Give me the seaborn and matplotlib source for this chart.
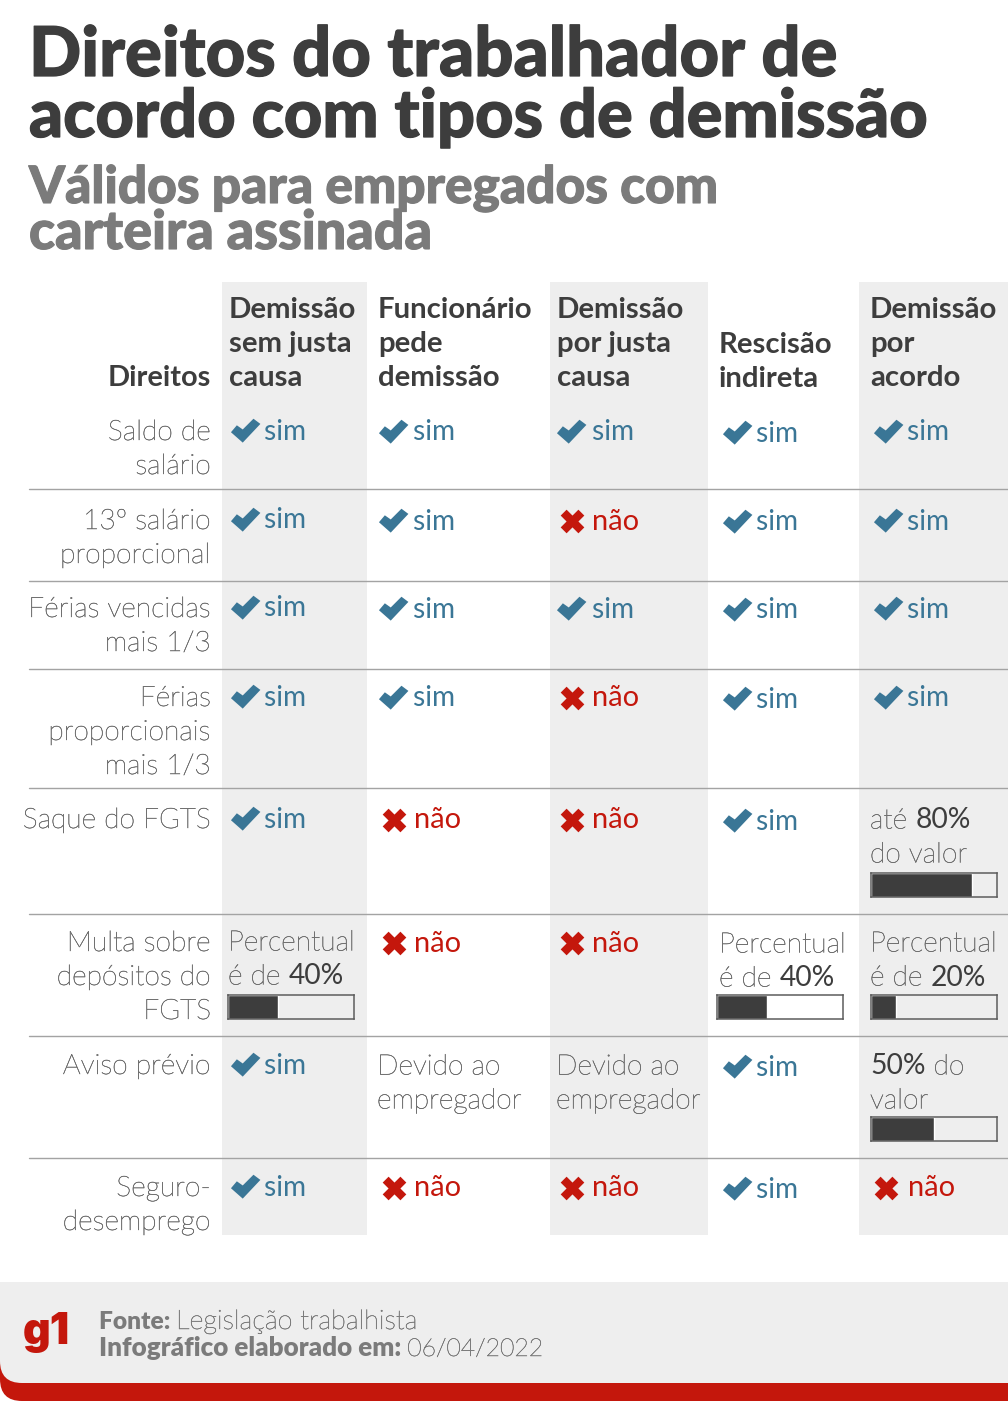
import numpy as np
import pandas as pd
import matplotlib
matplotlib.use('Agg')
import matplotlib.pyplot as plt
import matplotlib.patheffects as pe
from matplotlib.patches import FancyBboxPatch, Rectangle
from matplotlib.path import Path
import seaborn as sns

W, H = 1008, 1411

TITLE = ['Direitos do trabalhador de', 'acordo com tipos de demissão']
SUBTITLE = ['Válidos para empregados com', 'carteira assinada']
HEAD_LEFT = 'Direitos'
HEADERS = [
    ['Demissão', 'sem justa', 'causa'],
    ['Funcionário', 'pede', 'demissão'],
    ['Demissão', 'por justa', 'causa'],
    ['Rescisão', 'indireta'],
    ['Demissão', 'por', 'acordo'],
]
DIREITOS = [
    ['Saldo de', 'salário'],
    ['13º salário', 'proporcional'],
    ['Férias vencidas', 'mais 1/3'],
    ['Férias', 'proporcionais', 'mais 1/3'],
    ['Saque do FGTS'],
    ['Multa sobre', 'depósitos do', 'FGTS'],
    ['Aviso prévio'],
    ['Seguro-', 'desemprego'],
]
# ** marks the darker part of a cell
SEM_JUSTA = ['sim', 'sim', 'sim', 'sim', 'sim', 'Percentual\né de **40%**', 'sim', 'sim']
PEDE = ['sim', 'sim', 'sim', 'sim', 'não', 'não', 'Devido ao\nempregador', 'não']
POR_JUSTA = ['sim', 'não', 'sim', 'não', 'não', 'não', 'Devido ao\nempregador', 'não']
INDIRETA = ['sim', 'sim', 'sim', 'sim', 'sim', 'Percentual\né de **40%**', 'sim', 'sim']
ACORDO = ['sim', 'sim', 'sim', 'sim', 'até **80%**\ndo valor', 'Percentual\né de **20%**', '**50%** do\nvalor', 'não']
COLUMNS = [SEM_JUSTA, PEDE, POR_JUSTA, INDIRETA, ACORDO]

# percentage bars as (column, row, value)
BAR_COLS = [4, 0, 3, 4, 4]
BAR_ROWS = [4, 5, 5, 5, 6]
BAR_VALUES = [80, 40, 40, 20, 50]

FOOT_1 = ['**Fonte:** ', 'Legislação trabalhista']
FOOT_2 = ['**Infográfico elaborado em:** ', '06/04/2022']

# layout, in pixels of the picture
ROW_Y = [430, 519, 607, 696, 818, 941, 1064, 1186]
RULES = [489, 581, 669, 788, 914, 1036, 1158]
COL_X = [228, 377, 556, 719, 870]
COL_DY = [0, 1, 1, 2, 1]
MARK_X = [245, 393, 571, 737, 888]
WORD_X = [264, 413, 592, 756, 907]
NAO_X = [264, 414, 592, 756, 908]
GREY_COLS = [(222, 367), (550, 708), (859, 1008)]
BAR_X = [228, 378, 557, 717, 871]
BAR_Y = [0, 0, 0, 0, 873, 995, 1117, 0]
LINE = 34

DARK = '#3d3d3d'
MID = '#7b7b7b'
LIGHT = '#707070'
GREY = '#eeeeee'
RED = '#c4170c'
BLUE = '#3a7696'

sns.set_theme(style='white')
plt.rcParams['font.family'] = ['Lato', 'DejaVu Sans']

fig = plt.figure(figsize=(W / 100, H / 100), dpi=100, facecolor='white')
ax = fig.add_axes([0, 0, 1, 1])
ax.set_xlim(0, W)
ax.set_ylim(H, 0)
ax.axis('off')

px = 0.72


def put(x, y, s, size, color=LIGHT, weight='light', ha='left', stroke=0, family=None):
    t = ax.text(x, y, s, fontsize=size * px, color=color, fontweight=weight, ha=ha, va='baseline')
    if family:
        t.set_family(family)
    # the light cut is very thin, thicken it a little
    if weight == 'light' and not stroke:
        stroke = 0.35
    if stroke:
        t.set_path_effects([pe.withStroke(linewidth=stroke, foreground=color)])
    return t


def put_runs(x, y, markup, size):
    # one line with light and darker parts
    for i, part in enumerate(markup.split('**')):
        if not part:
            continue
        t = put(x, y, part, size, color=DARK if i % 2 else LIGHT, weight='normal' if i % 2 else 'light')
        x += t.get_window_extent(fig.canvas.get_renderer()).width


def foot(x, y, runs, sizes):
    for part, size in zip(runs, sizes):
        bold = part.startswith('**')
        s = part.replace('**', '')
        t = put(x, y, s, size, color=MID, weight='heavy' if bold else 'light')
        x += t.get_window_extent(fig.canvas.get_renderer()).width


# backgrounds
for x0, x1 in GREY_COLS:
    ax.add_patch(Rectangle((x0, 282), x1 - x0, 953, color=GREY, lw=0))
for y in RULES:
    ax.plot([29, W], [y, y], color='#a3a3a3', lw=1.0)

# title block
for y, s, size in zip([76, 137], TITLE, [68.7, 66.7]):
    put(29, y, s, size, color=DARK, weight='black', stroke=0.9)
for y, s, size in zip([203, 249], SUBTITLE, [51.4, 53.8]):
    put(29, y, s, size, color=MID, weight='black', stroke=0.8)

# header
put(211, 386, HEAD_LEFT, 29, color=DARK, weight='bold', ha='right')
for c, lines in enumerate(HEADERS):
    base = 353 if c == 3 else 318
    for i, s in enumerate(lines):
        put(COL_X[c] + (1 if c < 3 else 0), base + i * LINE, s, 29.4, color=DARK, weight='bold')

# row labels
for r, lines in enumerate(DIREITOS):
    for i, s in enumerate(lines):
        put(211, ROW_Y[r] + 10 + i * LINE, s, 28.2, ha='right')

# cells
check_x, check_y, cross_x, cross_y = [], [], [], []
for c, cells in enumerate(COLUMNS):
    for r, cell in enumerate(cells):
        y = ROW_Y[r] + COL_DY[c]
        if cell == 'sim':
            check_x.append(MARK_X[c])
            check_y.append(y)
            put(WORD_X[c], y + 9.5, cell, 28, color=BLUE, weight='normal')
        elif cell == 'não':
            cross_x.append(MARK_X[c] + 1 - (3 if c == 4 else 0))
            cross_y.append(y + 1)
            put(NAO_X[c], y + 9.5, cell, 29, color=RED, weight='normal')
        else:
            for i, line in enumerate(cell.split('\n')):
                put_runs(COL_X[c], y + 9.5 + i * LINE, line, 28.2)

check_path = Path(np.array([(-42, -5), (-8, -35), (43, 19), (23, 34), (-8, 3), (-25, 15), (-42, -5)]) / 43.0, closed=True)
sns.scatterplot(data=pd.DataFrame({'x': check_x, 'y': check_y}), x='x', y='y', marker=check_path,
                s=460, color=BLUE, linewidth=0, ax=ax)
sns.scatterplot(data=pd.DataFrame({'x': cross_x, 'y': cross_y}), x='x', y='y', marker='X',
                s=290, color=RED, linewidth=0, ax=ax)
ax.set_xlim(0, W)
ax.set_ylim(H, 0)

# percentage bars
for c, r, v in zip(BAR_COLS, BAR_ROWS, BAR_VALUES):
    x, y, w, h = BAR_X[c], BAR_Y[r], 126, 24
    bar_ax = fig.add_axes([x / W, 1 - (y + h) / H, w / W, h / H])
    sns.barplot(x=[v], y=['v'], orient='h', color=DARK, saturation=1, width=1, ax=bar_ax)
    bar_ax.set_xlim(0, 100)
    bar_ax.set_ylim(0.5, -0.5)
    bar_ax.set(xticks=[], yticks=[], xlabel='', ylabel='')
    bar_ax.patch.set_visible(False)
    for sp in bar_ax.spines.values():
        sp.set_visible(True)
        sp.set_color('#5c5c5c')
        sp.set_linewidth(1.1)

# footer
ax.add_patch(FancyBboxPatch((0, 1320), 1200, 81, boxstyle='round,pad=0,rounding_size=22', color=RED, lw=0))
ax.add_patch(Rectangle((0, 1282), W, 60, color=GREY, lw=0))
ax.add_patch(FancyBboxPatch((0, 1320), 1200, 63, boxstyle='round,pad=0,rounding_size=22', color=GREY, lw=0))
put(23, 1344, 'g1', 43, color=RED, weight='black', family=['Inter', 'DejaVu Sans'])
foot(99, 1329, FOOT_1, [24.5, 27])
foot(99, 1356, FOOT_2, [26, 24.8])

fig.savefig('out.png', dpi=100)
